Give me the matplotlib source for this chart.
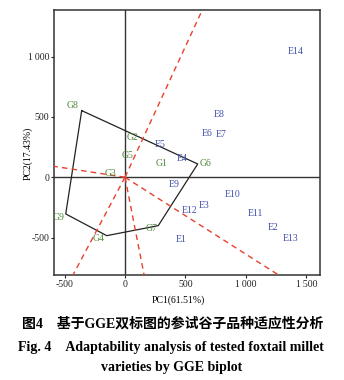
import numpy as np
import matplotlib
matplotlib.use("Agg")
import matplotlib.pyplot as plt

# ---- data ----
gen_names = ["G1", "G2", "G3", "G4", "G5", "G6", "G7", "G8", "G9"]
gen_pc1 = [303, 66, -124, -151, 25, 601, 275, -358, -490]
gen_pc2 = [116, 326, 27, -484, 179, 110, -401, 552, -304]

env_names = ["E1", "E2", "E3", "E4", "E5", "E6", "E7", "E8", "E9", "E10",
             "E11", "E12", "E13", "E14"]
env_pc1 = [465, 1226, 655, 471, 289, 675, 793, 779, 405, 890, 1077, 531, 1364, 1407]
env_pc2 = [-514, -414, -238, 152, 268, 365, 356, 516, -56, -141, -298, -277, -509, 1041]

hull_order = ["G8", "G6", "G7", "G4", "G9"]

xticks = [-500, 0, 500, 1000, 1500]
xticklabels = ["-500", "0", "500", "1\u2009000", "1\u2009500"]
yticks = [-500, 0, 500, 1000]
yticklabels = ["-500", "0", "500", "1\u2009000"]

xlabel = "PC1(61.51%)"
ylabel = "PC2(17.43%)"
cap_cn = "图4\u3000基于GGE双标图的参试谷子品种适应性分析"
cap_en1 = "Fig. 4\u2002\u2002Adaptability analysis of tested foxtail millet"
cap_en2 = "varieties by GGE biplot"

# label offsets (points) for vertex genotypes
label_offsets = {"G4": (-5.5, -2.4), "G6": (5.5, 0), "G7": (-4.8, -2.4),
                 "G8": (-6.3, 3.4), "G9": (-5.5, -2.4)}

serif = ["Liberation Serif", "DejaVu Serif"]
GREEN = "#4f8a3a"
BLUE = "#3f4fa8"
RED = "#e8412c"

fig = plt.figure(figsize=(3.44, 3.80), dpi=100)
ax = fig.add_axes([54/344, 1-275/380, (320-54)/344, (275-9.5)/380])
xlim = (-587, 1612)
ylim = (-810, 1390)
ax.set_xlim(*xlim)
ax.set_ylim(*ylim)

# axes lines through origin
ax.axhline(0, color="#333333", lw=1.0, zorder=1)
ax.axvline(0, color="#333333", lw=1.0, zorder=1)

# polygon
gmap = {n: (x, y) for n, x, y in zip(gen_names, gen_pc1, gen_pc2)}
hx = [gmap[n][0] for n in hull_order] + [gmap[hull_order[0]][0]]
hy = [gmap[n][1] for n in hull_order] + [gmap[hull_order[0]][1]]
ax.plot(hx, hy, color="#222222", lw=0.9, zorder=2)

# perpendicular rays from origin to each side
for i in range(len(hull_order)):
    P = np.array(gmap[hull_order[i]], float)
    Q = np.array(gmap[hull_order[(i + 1) % len(hull_order)]], float)
    d = Q - P
    t = -P.dot(d) / d.dot(d)
    foot = P + t * d
    u = foot / np.linalg.norm(foot)
    ax.plot([0, u[0] * 5000], [0, u[1] * 5000], color=RED, lw=1.0,
            dashes=(4, 3), zorder=3)

# genotype labels
for n, x, y in zip(gen_names, gen_pc1, gen_pc2):
    off = label_offsets.get(n, (0, 0))
    ax.annotate(n, (x, y), xytext=off, textcoords="offset points",
                ha="center", va="center", color=GREEN, fontsize=7,
                family=serif, zorder=4)

# environment labels
for n, x, y in zip(env_names, env_pc1, env_pc2):
    ax.text(x, y, n, ha="center", va="center", color=BLUE, fontsize=7,
            family=serif, zorder=4)

ax.set_xticks(xticks)
ax.set_xticklabels(xticklabels, family=serif, fontsize=7)
ax.set_yticks(yticks)
ax.set_yticklabels(yticklabels, family=serif, fontsize=7)
ax.tick_params(direction="out", length=2, width=0.8, pad=1.5, colors="#222222")
for s in ax.spines.values():
    s.set_color("#333333")
    s.set_linewidth(1.1)

fig.text(178/344, 1-300/380, xlabel, ha="center", va="center",
         family=serif, fontsize=7)
fig.text(28/344, 1-153/380, ylabel, ha="center", va="center",
         family=serif, fontsize=7, rotation=90)

fig.text(173/344, 1-324/380, cap_cn, ha="center", va="center",
         family=["Liberation Serif", "Noto Sans CJK SC"], fontsize=10,
         weight="bold")
fig.text(171/344, 1-347/380, cap_en1, ha="center", va="center",
         family=serif, fontsize=10, weight="bold")
fig.text(172/344, 1-368/380, cap_en2, ha="center", va="center",
         family=serif, fontsize=10, weight="bold")

fig.savefig("out.png", dpi=100)
